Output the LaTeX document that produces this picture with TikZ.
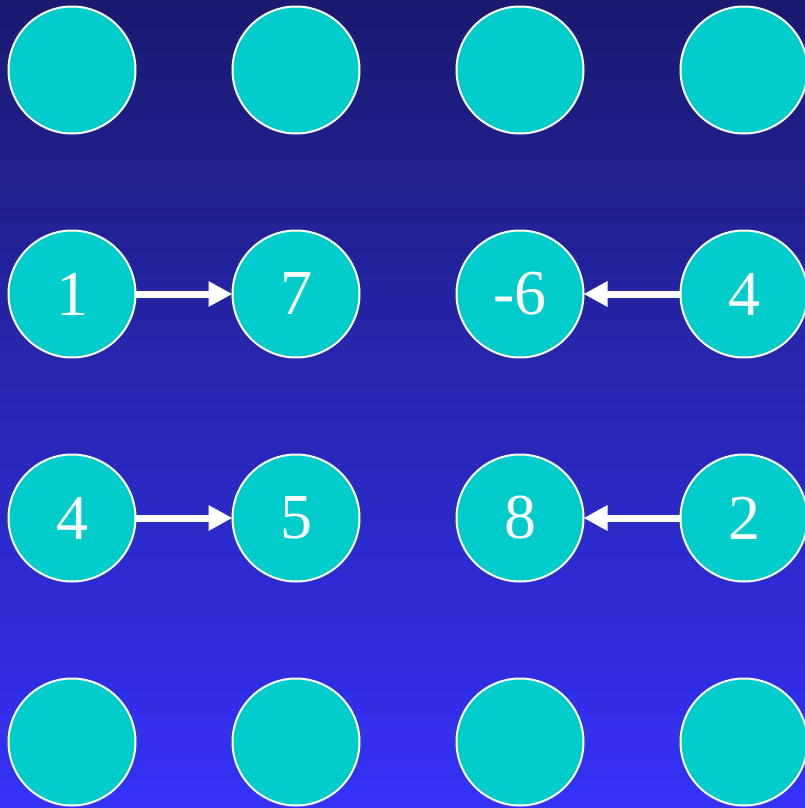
\documentclass[tikz,border=0pt]{standalone}
\usepackage{fontspec}
\setmainfont{Liberation Serif}
\usetikzlibrary{arrows.meta}
\definecolor{bgtop}{RGB}{27,26,112}
\definecolor{bgbot}{RGB}{52,50,246}
\definecolor{disk}{RGB}{0,204,204}
\tikzset{
  dot/.style={circle, draw=white, line width=2pt, fill=disk, minimum size=127pt, inner sep=0pt, outer sep=0pt, text=white, font=\fontsize{64}{64}\selectfont},
  link/.style={draw=white, line width=7pt, -{Triangle[length=24pt,width=24pt]}}
}
\begin{document}
\begin{tikzpicture}[x=1pt,y=-1pt]
\clip (0,0) rectangle (805,808);
\useasboundingbox (0,0) rectangle (805,808);
\shade[top color=bgtop, bottom color=bgbot] (0,0) rectangle (805,808);
\node[dot] (a1) at (72,70) {};
\node[dot] (a2) at (296,70) {};
\node[dot] (a3) at (520,70) {};
\node[dot] (a4) at (744,70) {};
\node[dot] (b1) at (72,294) {1};
\node[dot] (b2) at (296,294) {7};
\node[dot] (b3) at (520,294) {-6};
\node[dot] (b4) at (744,294) {4};
\node[dot] (c1) at (72,518) {4};
\node[dot] (c2) at (296,518) {5};
\node[dot] (c3) at (520,518) {8};
\node[dot] (c4) at (744,518) {2};
\node[dot] (d1) at (72,742) {};
\node[dot] (d2) at (296,742) {};
\node[dot] (d3) at (520,742) {};
\node[dot] (d4) at (744,742) {};
\draw[link] (b1) -- (b2);
\draw[link] (b4) -- (b3);
\draw[link] (c1) -- (c2);
\draw[link] (c4) -- (c3);
\end{tikzpicture}
\end{document}
